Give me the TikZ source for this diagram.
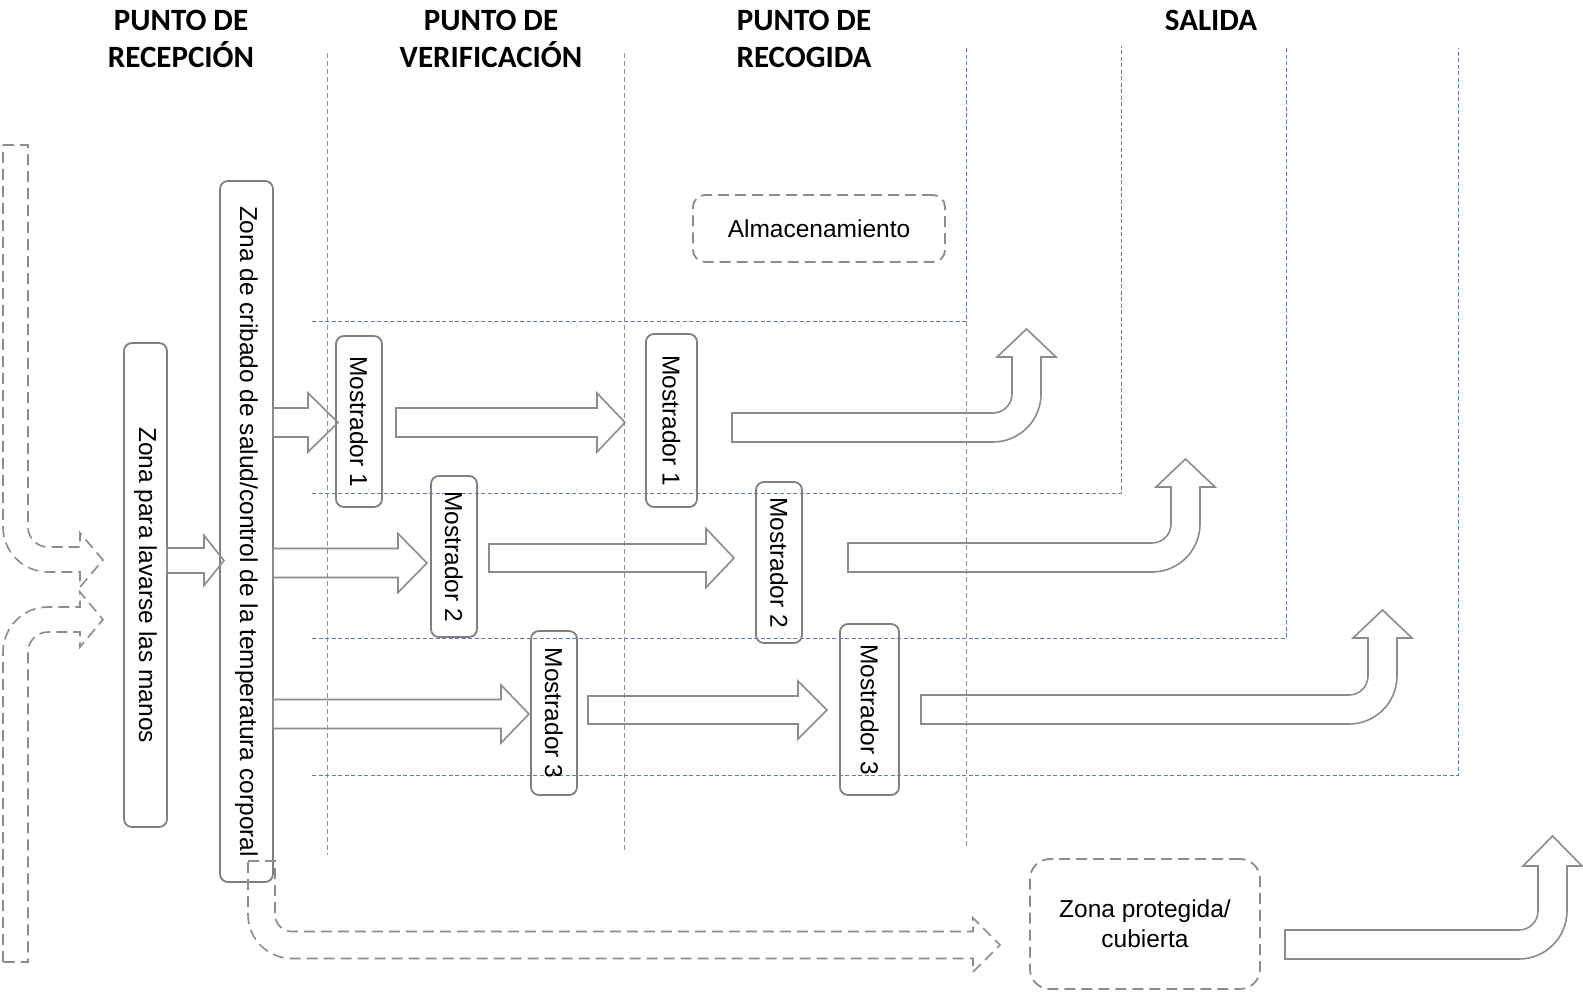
\documentclass[tikz,border=0pt]{standalone}
\usepackage{graphicx}
\usepackage{fontspec}
\setmainfont{Liberation Sans}
\newfontfamily\headfont{Carlito}
\usetikzlibrary{calc}
\definecolor{boxgray}{RGB}{128,128,128}
\definecolor{arrgray}{RGB}{140,140,140}
\definecolor{divgray}{RGB}{145,145,145}
\definecolor{laneblue}{RGB}{100,122,170}
\tikzset{
  zone/.style={draw=boxgray, line width=1.8pt, rounded corners=8pt, inner sep=0pt,
    font=\fontsize{24.5}{29}\selectfont, text=black},
  dzone/.style={draw=arrgray, line width=1.8pt, dash pattern=on 11pt off 6pt,
    font=\fontsize{24.5}{30}\selectfont, text=black, align=center, inner sep=0pt},
  barrow/.style={draw=arrgray, line width=1.6pt, line join=miter},
  darrow/.style={draw=arrgray, line width=1.6pt, dash pattern=on 11pt off 6pt, line join=miter},
  divider/.style={draw=divgray, line width=0.9pt, dash pattern=on 5pt off 3pt},
  lane/.style={draw=laneblue, line width=0.9pt, dash pattern=on 4pt off 2.5pt},
  headtxt/.style={font=\headfont\bfseries\fontsize{31}{37}\selectfont, anchor=base, inner sep=0pt},
}
% right block arrow: start x, tip x, center y, shaft half, head half, head length
\newcommand\rarrow[6]{%
  \draw[barrow] (#1,#3-#4) -- (#2-#6,#3-#4) -- (#2-#6,#3-#5) -- (#2,#3)
    -- (#2-#6,#3+#5) -- (#2-#6,#3+#4) -- (#1,#3+#4) -- cycle;}
% bent-up block arrow: start x, shaft top y, inner vertical x, head base y, tip y
\newcommand\uarrow[5]{%
  \draw[barrow] (#1,#2) -- (#3-19,#2) .. controls (#3-8.5,#2) and (#3,#2-8.5) .. (#3,#2-19)
    -- (#3,#4) -- (#3-15,#4) -- (#3+14.5,#5) -- (#3+44,#4) -- (#3+29,#4)
    -- (#3+29,#2-19) .. controls (#3+29,#2+7.5) and (#3+7.5,#2+29) .. (#3-19,#2+29)
    -- (#1,#2+29) -- cycle;}
\begin{document}
\begin{tikzpicture}[x=1pt,y=-1pt]
\path[fill=white] (0,0) rectangle (1583,993);
\useasboundingbox (0,0) rectangle (1583,993);

% headers
\node[headtxt] (h1a) at (181,30) {PUNTO DE};
\node[headtxt] (h1b) at (181,67) {RECEPCIÓN};
\node[headtxt] (h2a) at (491,30) {PUNTO DE};
\node[headtxt] (h2b) at (491,67) {VERIFICACIÓN};
\node[headtxt] (h3a) at (804,30) {PUNTO DE};
\node[headtxt] (h3b) at (804,67) {RECOGIDA};
\node[headtxt] (h4a) at (1211,30) {SALIDA};

% column dividers
\draw[divider] (327,53) -- (327,855);
\draw[divider] (624,53) -- (624,853);
\draw[divider] (966,321) -- (966,846);
% exit lanes
\draw[lane] (312,321) -- (966,321) -- (966,46);
\draw[lane] (312,493) -- (1121,493) -- (1121,46);
\draw[lane] (312,638) -- (1286,638) -- (1286,47);
\draw[lane] (312,775) -- (1458,775) -- (1458,48);

% boxes
\node[zone, minimum width=43pt, minimum height=484pt] (wash) at (145.5,585)
  {\rotatebox{-90}{Zona para lavarse las manos}};
\node[zone, minimum width=53pt, minimum height=701pt] (screen) at (246.5,531.5)
  {\rotatebox{-90}{Zona de cribado de salud/control de la temperatura corporal}};
\node[zone, minimum width=46pt, minimum height=171pt] (v1) at (359,421.5) {\rotatebox{-90}{Mostrador 1}};
\node[zone, minimum width=46pt, minimum height=161pt] (v2) at (454,556.5) {\rotatebox{-90}{Mostrador 2}};
\node[zone, minimum width=46pt, minimum height=164pt] (v3) at (554,713) {\rotatebox{-90}{Mostrador 3}};
\node[zone, minimum width=51pt, minimum height=173pt] (p1) at (671.5,420.5) {\rotatebox{-90}{Mostrador 1}};
\node[zone, minimum width=46pt, minimum height=161pt] (p2) at (779,562.5) {\rotatebox{-90}{Mostrador 2}};
\node[zone, minimum width=59pt, minimum height=171pt] (p3) at (869.5,709.5) {\rotatebox{-90}{Mostrador 3}};
\node[dzone, rounded corners=12pt, minimum width=252pt, minimum height=67pt] (store) at (819,228.5) {Almacenamiento};
\node[dzone, rounded corners=20pt, minimum width=230pt, minimum height=130pt] (cover) at (1145,924) {Zona protegida/\\cubierta};

% straight block arrows
\rarrow{167}{224}{560.5}{12.5}{25}{20}
\rarrow{273}{338}{422.5}{14.5}{29.5}{30}
\rarrow{273}{427}{563}{14.5}{29.5}{29}
\rarrow{273}{529}{714}{14.5}{29}{28}
\rarrow{396}{625}{422.5}{14.5}{29.5}{28}
\rarrow{489}{734}{558}{14}{29.5}{28}
\rarrow{588}{827}{710}{14}{29}{29}

% bent exit arrows
\uarrow{732}{413}{1012}{357}{329}
\uarrow{848}{543}{1171}{487}{459}
\uarrow{921}{695}{1368}{638}{610}
\uarrow{1285}{930}{1538}{866}{836}

% dashed entry paths
\draw[darrow] (3,145) -- (28,145) -- (28,527) .. controls (28,538) and (37,547) .. (48,547)
  -- (80,547) -- (80,533) -- (103,560) -- (80,587) -- (80,572) -- (48,572)
  .. controls (23.2,572) and (3,551.8) .. (3,527) -- cycle;
\draw[darrow] (3,962) -- (3,652) .. controls (3,627.2) and (23.2,607) .. (48,607)
  -- (80,607) -- (80,592) -- (103,619.5) -- (80,647) -- (80,632) -- (48,632)
  .. controls (37,632) and (28,641) .. (28,652) -- (28,962) -- cycle;
% dashed bypass to covered zone
\draw[darrow] (248,861) -- (275,861) -- (275,914.5) .. controls (275,923.9) and (282.6,931.5) .. (292,931.5)
  -- (973,931.5) -- (973,918) -- (1000,945) -- (973,972) -- (973,958.5) -- (292,958.5)
  .. controls (267.7,958.5) and (248,938.8) .. (248,914.5) -- cycle;
\end{tikzpicture}
\end{document}
